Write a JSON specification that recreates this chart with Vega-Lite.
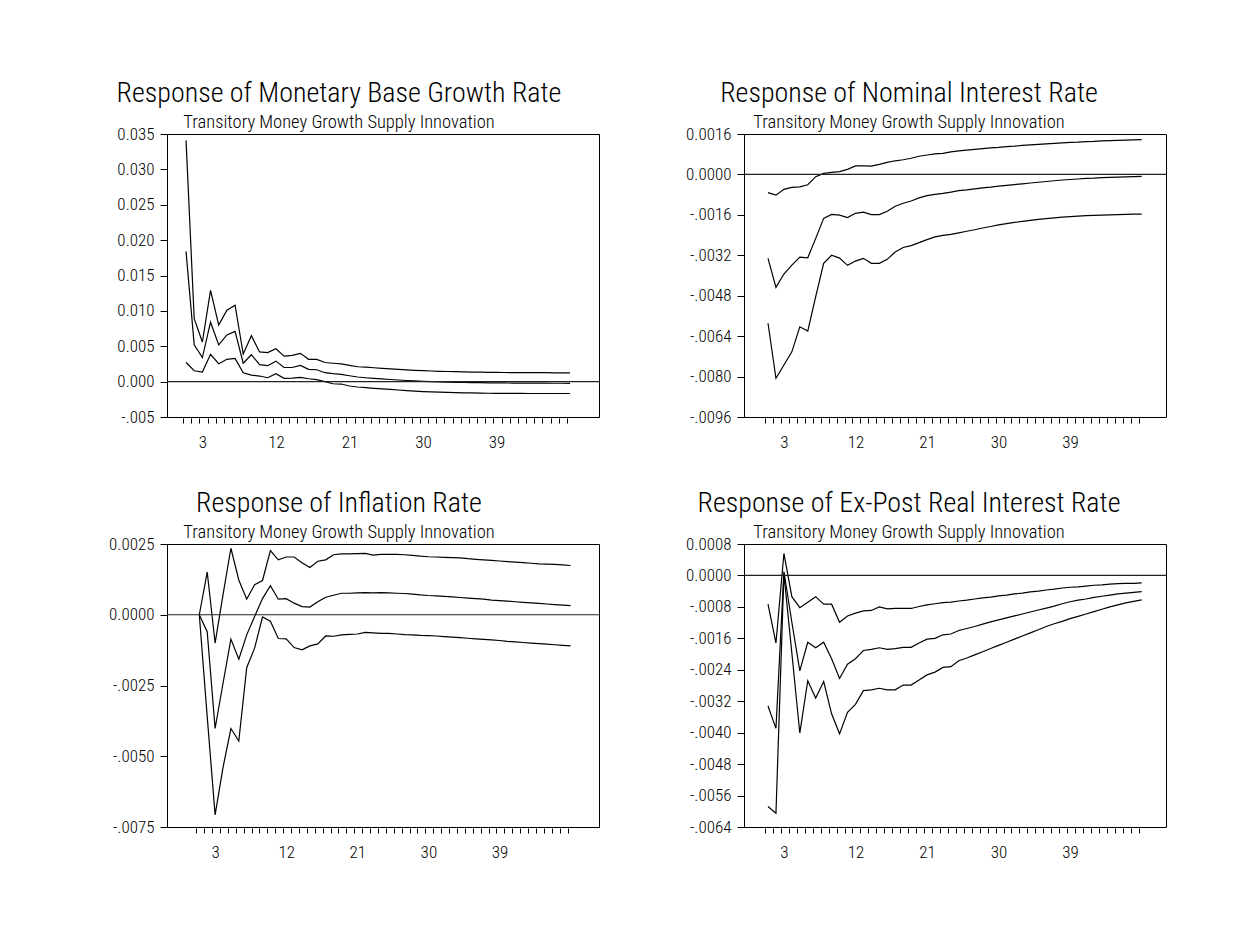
{
  "$schema": "https://vega.github.io/schema/vega-lite/v6.json",
  "padding": {"left": 108, "top": 79, "right": 83, "bottom": 69},
  "background": "white",
  "config": {
    "font": "Roboto Condensed, Liberation Sans, sans-serif",
    "view": {"stroke": "black", "strokeWidth": 1},
    "title": {"fontSize": 28, "fontWeight": 300, "color": "black", "subtitleFontSize": 18.5, "subtitleFontWeight": 300, "subtitleColor": "black", "anchor": "middle", "frame": "group", "offset": -6, "subtitlePadding": 5},
    "axis": {"title": null, "grid": false, "domain": false, "tickColor": "black", "labelColor": "black", "labelOverlap": false, "labelFlush": false, "labelBound": false, "tickCount": 100, "labelFontWeight": 300},
    "axisX": {"tickSize": 5, "offset": 1, "tickOffset": -3, "labelOffset": 3, "labelPadding": 11, "labelFontSize": 17},
    "axisY": {"tickSize": 7, "labelPadding": 6, "labelFontSize": 17}
  },
  "datasets": {
    "tl": [
      {"p":1,"hi":0.0341,"mid":0.0184,"lo":0.0027},{"p":2,"hi":0.0089,"mid":0.0052,"lo":0.00154},{"p":3,"hi":0.0056,"mid":0.0034,"lo":0.00136},{"p":4,"hi":0.0129,"mid":0.0084,"lo":0.00386},
      {"p":5,"hi":0.008,"mid":0.0052,"lo":0.00253},{"p":6,"hi":0.0101,"mid":0.0066,"lo":0.00315},{"p":7,"hi":0.0108,"mid":0.0071,"lo":0.00329},{"p":8,"hi":0.0039,"mid":0.0026,"lo":0.00126},
      {"p":9,"hi":0.0065,"mid":0.0038,"lo":0.00093},{"p":10,"hi":0.0042,"mid":0.0024,"lo":0.00079},{"p":11,"hi":0.0041,"mid":0.00225,"lo":0.00055},{"p":12,"hi":0.00465,"mid":0.0029,"lo":0.00112},
      {"p":13,"hi":0.0036,"mid":0.002,"lo":0.00047},{"p":14,"hi":0.0037,"mid":0.002,"lo":0.0005},{"p":15,"hi":0.004,"mid":0.0023,"lo":0.0006},{"p":16,"hi":0.00315,"mid":0.00174,"lo":0.00041},
      {"p":17,"hi":0.00315,"mid":0.00168,"lo":0.00027},{"p":18,"hi":0.0027,"mid":0.00126,"lo":-0.00001},{"p":19,"hi":0.0026,"mid":0.00112,"lo":-0.0003},{"p":20,"hi":0.0025,"mid":0.00103,"lo":-0.00034},
      {"p":21,"hi":0.0023,"mid":0.00083,"lo":-0.00062},{"p":22,"hi":0.0021,"mid":0.00065,"lo":-0.00076},{"p":23,"hi":0.00205,"mid":0.00055,"lo":-0.00086},{"p":24,"hi":0.00196,"mid":0.00046,"lo":-0.00095},
      {"p":25,"hi":0.00188,"mid":0.00038,"lo":-0.00103},{"p":26,"hi":0.0018,"mid":0.0003,"lo":-0.0011},{"p":27,"hi":0.00173,"mid":0.00023,"lo":-0.00118},{"p":28,"hi":0.00166,"mid":0.00016,"lo":-0.00126},
      {"p":29,"hi":0.0016,"mid":0.0001,"lo":-0.00134},{"p":30,"hi":0.00155,"mid":0.00004,"lo":-0.0014},{"p":31,"hi":0.0015,"mid":-0.00001,"lo":-0.00144},{"p":32,"hi":0.00146,"mid":-0.00005,"lo":-0.00148},
      {"p":33,"hi":0.00143,"mid":-0.00008,"lo":-0.00152},{"p":34,"hi":0.0014,"mid":-0.0001,"lo":-0.00155},{"p":35,"hi":0.00137,"mid":-0.00012,"lo":-0.00158},{"p":36,"hi":0.00135,"mid":-0.00014,"lo":-0.0016},
      {"p":37,"hi":0.00133,"mid":-0.00015,"lo":-0.00162},{"p":38,"hi":0.00131,"mid":-0.00017,"lo":-0.00164},{"p":39,"hi":0.0013,"mid":-0.00018,"lo":-0.00165},{"p":40,"hi":0.00129,"mid":-0.00019,"lo":-0.00166},
      {"p":41,"hi":0.00128,"mid":-0.0002,"lo":-0.00167},{"p":42,"hi":0.00127,"mid":-0.00021,"lo":-0.00167},{"p":43,"hi":0.00127,"mid":-0.00021,"lo":-0.00168},{"p":44,"hi":0.00126,"mid":-0.00022,"lo":-0.00168},
      {"p":45,"hi":0.00126,"mid":-0.00022,"lo":-0.00168},{"p":46,"hi":0.00125,"mid":-0.00023,"lo":-0.00168},{"p":47,"hi":0.00125,"mid":-0.00023,"lo":-0.00168},{"p":48,"hi":0.00125,"mid":-0.00024,"lo":-0.00168}
    ],
    "tr": [
      {"p":1,"hi":-0.00072,"mid":-0.00332,"lo":-0.00589},{"p":2,"hi":-0.00082,"mid":-0.00447,"lo":-0.00807},{"p":3,"hi":-0.00059,"mid":-0.00394,"lo":-0.00754},{"p":4,"hi":-0.00051,"mid":-0.00359,"lo":-0.00702},
      {"p":5,"hi":-0.00049,"mid":-0.00327,"lo":-0.00603},{"p":6,"hi":-0.00041,"mid":-0.0033,"lo":-0.0062},{"p":7,"hi":-0.00009,"mid":-0.00253,"lo":-0.00484},{"p":8,"hi":0.00004,"mid":-0.00174,"lo":-0.00352},
      {"p":9,"hi":0.00008,"mid":-0.00158,"lo":-0.0032},{"p":10,"hi":0.00011,"mid":-0.00161,"lo":-0.00331},{"p":11,"hi":0.0002,"mid":-0.00171,"lo":-0.0036},{"p":12,"hi":0.00034,"mid":-0.00154,"lo":-0.00343},
      {"p":13,"hi":0.00034,"mid":-0.00149,"lo":-0.00332},{"p":14,"hi":0.00033,"mid":-0.00159,"lo":-0.00352},{"p":15,"hi":0.0004,"mid":-0.00159,"lo":-0.00352},{"p":16,"hi":0.00048,"mid":-0.00146,"lo":-0.00336},
      {"p":17,"hi":0.00054,"mid":-0.00126,"lo":-0.00307},{"p":18,"hi":0.00058,"mid":-0.00114,"lo":-0.00289},{"p":19,"hi":0.00064,"mid":-0.00105,"lo":-0.00282},{"p":20,"hi":0.00072,"mid":-0.00093,"lo":-0.0027},
      {"p":21,"hi":0.00077,"mid":-0.00084,"lo":-0.00258},{"p":22,"hi":0.00081,"mid":-0.00079,"lo":-0.00247},{"p":23,"hi":0.00083,"mid":-0.00075,"lo":-0.00241},{"p":24,"hi":0.00089,"mid":-0.0007,"lo":-0.00237},
      {"p":25,"hi":0.00093,"mid":-0.00064,"lo":-0.00231},{"p":26,"hi":0.00096,"mid":-0.00061,"lo":-0.00225},{"p":27,"hi":0.00099,"mid":-0.00057,"lo":-0.00219},{"p":28,"hi":0.00102,"mid":-0.00053,"lo":-0.00212},
      {"p":29,"hi":0.00105,"mid":-0.0005,"lo":-0.00206},{"p":30,"hi":0.00107,"mid":-0.00046,"lo":-0.002},{"p":31,"hi":0.0011,"mid":-0.00043,"lo":-0.00195},{"p":32,"hi":0.00112,"mid":-0.0004,"lo":-0.0019},
      {"p":33,"hi":0.00115,"mid":-0.00037,"lo":-0.00186},{"p":34,"hi":0.00117,"mid":-0.00034,"lo":-0.00182},{"p":35,"hi":0.00119,"mid":-0.00031,"lo":-0.00178},{"p":36,"hi":0.00121,"mid":-0.00028,"lo":-0.00175},
      {"p":37,"hi":0.00123,"mid":-0.00025,"lo":-0.00172},{"p":38,"hi":0.00125,"mid":-0.00022,"lo":-0.00169},{"p":39,"hi":0.00127,"mid":-0.0002,"lo":-0.00167},{"p":40,"hi":0.00128,"mid":-0.00018,"lo":-0.00165},
      {"p":41,"hi":0.0013,"mid":-0.00016,"lo":-0.00163},{"p":42,"hi":0.00131,"mid":-0.00015,"lo":-0.00162},{"p":43,"hi":0.00133,"mid":-0.00013,"lo":-0.00161},{"p":44,"hi":0.00134,"mid":-0.00012,"lo":-0.0016},
      {"p":45,"hi":0.00135,"mid":-0.00011,"lo":-0.00159},{"p":46,"hi":0.00136,"mid":-0.0001,"lo":-0.00158},{"p":47,"hi":0.00137,"mid":-0.00009,"lo":-0.00157},{"p":48,"hi":0.00138,"mid":-0.00008,"lo":-0.00157}
    ],
    "bl": [
      {"p":1,"hi":0,"mid":0,"lo":0},{"p":2,"hi":0.00151,"mid":-0.0006,"lo":-0.0036},{"p":3,"hi":-0.001,"mid":-0.00402,"lo":-0.00707},{"p":4,"hi":0.0007,"mid":-0.00243,"lo":-0.0054},
      {"p":5,"hi":0.00235,"mid":-0.00086,"lo":-0.00402},{"p":6,"hi":0.00123,"mid":-0.00157,"lo":-0.00446},{"p":7,"hi":0.00055,"mid":-0.00071,"lo":-0.00187},{"p":8,"hi":0.00106,"mid":-0.00006,"lo":-0.00118},
      {"p":9,"hi":0.00121,"mid":0.00057,"lo":-0.00008},{"p":10,"hi":0.00227,"mid":0.00103,"lo":-0.00023},{"p":11,"hi":0.00194,"mid":0.00055,"lo":-0.00084},{"p":12,"hi":0.00204,"mid":0.00057,"lo":-0.00085},
      {"p":13,"hi":0.00204,"mid":0.00041,"lo":-0.00116},{"p":14,"hi":0.00184,"mid":0.00029,"lo":-0.00124},{"p":15,"hi":0.00167,"mid":0.00027,"lo":-0.0011},{"p":16,"hi":0.00189,"mid":0.00046,"lo":-0.00103},
      {"p":17,"hi":0.00194,"mid":0.00062,"lo":-0.00075},{"p":18,"hi":0.00212,"mid":0.00069,"lo":-0.00076},{"p":19,"hi":0.00215,"mid":0.00076,"lo":-0.00071},{"p":20,"hi":0.00215,"mid":0.00076,"lo":-0.00069},
      {"p":21,"hi":0.00216,"mid":0.00077,"lo":-0.00068},{"p":22,"hi":0.00217,"mid":0.00078,"lo":-0.00062},{"p":23,"hi":0.00211,"mid":0.00077,"lo":-0.00064},{"p":24,"hi":0.00213,"mid":0.00078,"lo":-0.00066},
      {"p":25,"hi":0.00213,"mid":0.00077,"lo":-0.00066},{"p":26,"hi":0.00213,"mid":0.00076,"lo":-0.00068},{"p":27,"hi":0.00212,"mid":0.00075,"lo":-0.0007},{"p":28,"hi":0.0021,"mid":0.00073,"lo":-0.00071},
      {"p":29,"hi":0.00207,"mid":0.0007,"lo":-0.00073},{"p":30,"hi":0.00205,"mid":0.00068,"lo":-0.00074},{"p":31,"hi":0.00204,"mid":0.00067,"lo":-0.00075},{"p":32,"hi":0.00203,"mid":0.00065,"lo":-0.00077},
      {"p":33,"hi":0.00202,"mid":0.00063,"lo":-0.00079},{"p":34,"hi":0.00201,"mid":0.00061,"lo":-0.00081},{"p":35,"hi":0.00198,"mid":0.00059,"lo":-0.00083},{"p":36,"hi":0.00196,"mid":0.00057,"lo":-0.00085},
      {"p":37,"hi":0.00194,"mid":0.00055,"lo":-0.00087},{"p":38,"hi":0.00192,"mid":0.00052,"lo":-0.00089},{"p":39,"hi":0.0019,"mid":0.0005,"lo":-0.00091},{"p":40,"hi":0.00188,"mid":0.00048,"lo":-0.00094},
      {"p":41,"hi":0.00186,"mid":0.00046,"lo":-0.00096},{"p":42,"hi":0.00184,"mid":0.00044,"lo":-0.00098},{"p":43,"hi":0.00182,"mid":0.00042,"lo":-0.001},{"p":44,"hi":0.0018,"mid":0.0004,"lo":-0.00102},
      {"p":45,"hi":0.00179,"mid":0.00038,"lo":-0.00104},{"p":46,"hi":0.00178,"mid":0.00036,"lo":-0.00106},{"p":47,"hi":0.00176,"mid":0.00034,"lo":-0.00108},{"p":48,"hi":0.00174,"mid":0.00032,"lo":-0.0011}
    ],
    "br": [
      {"p":1,"hi":-0.00073,"mid":-0.00332,"lo":-0.00588},{"p":2,"hi":-0.00172,"mid":-0.00389,"lo":-0.00605},{"p":3,"hi":0.00056,"mid":0.0001,"lo":0.00004},{"p":4,"hi":-0.00054,"mid":-0.00119,"lo":-0.00198},
      {"p":5,"hi":-0.00082,"mid":-0.00243,"lo":-0.00401},{"p":6,"hi":-0.00068,"mid":-0.0017,"lo":-0.00268},{"p":7,"hi":-0.00054,"mid":-0.00184,"lo":-0.00312},{"p":8,"hi":-0.00073,"mid":-0.0017,"lo":-0.0027},
      {"p":9,"hi":-0.00073,"mid":-0.00212,"lo":-0.00352},{"p":10,"hi":-0.00119,"mid":-0.00262,"lo":-0.00403},{"p":11,"hi":-0.00103,"mid":-0.00226,"lo":-0.00348},{"p":12,"hi":-0.00096,"mid":-0.00212,"lo":-0.00328},
      {"p":13,"hi":-0.0009,"mid":-0.00191,"lo":-0.00293},{"p":14,"hi":-0.00089,"mid":-0.00188,"lo":-0.00291},{"p":15,"hi":-0.0008,"mid":-0.00184,"lo":-0.00287},{"p":16,"hi":-0.00085,"mid":-0.00188,"lo":-0.00291},
      {"p":17,"hi":-0.00084,"mid":-0.00186,"lo":-0.00291},{"p":18,"hi":-0.00084,"mid":-0.00183,"lo":-0.00279},{"p":19,"hi":-0.00084,"mid":-0.00183,"lo":-0.00279},{"p":20,"hi":-0.00079,"mid":-0.00172,"lo":-0.00266},
      {"p":21,"hi":-0.00075,"mid":-0.00162,"lo":-0.00253},{"p":22,"hi":-0.00072,"mid":-0.0016,"lo":-0.00246},{"p":23,"hi":-0.00069,"mid":-0.00151,"lo":-0.00234},{"p":24,"hi":-0.00068,"mid":-0.00149,"lo":-0.00232},
      {"p":25,"hi":-0.00065,"mid":-0.0014,"lo":-0.00217},{"p":26,"hi":-0.00063,"mid":-0.00135,"lo":-0.0021},{"p":27,"hi":-0.0006,"mid":-0.0013,"lo":-0.00202},{"p":28,"hi":-0.00057,"mid":-0.00124,"lo":-0.00194},
      {"p":29,"hi":-0.00055,"mid":-0.00118,"lo":-0.00186},{"p":30,"hi":-0.00052,"mid":-0.00113,"lo":-0.00178},{"p":31,"hi":-0.0005,"mid":-0.00108,"lo":-0.0017},{"p":32,"hi":-0.00047,"mid":-0.00103,"lo":-0.00162},
      {"p":33,"hi":-0.00045,"mid":-0.00098,"lo":-0.00154},{"p":34,"hi":-0.00042,"mid":-0.00093,"lo":-0.00146},{"p":35,"hi":-0.0004,"mid":-0.00088,"lo":-0.00138},{"p":36,"hi":-0.00037,"mid":-0.00083,"lo":-0.0013},
      {"p":37,"hi":-0.00035,"mid":-0.00078,"lo":-0.00123},{"p":38,"hi":-0.00032,"mid":-0.00072,"lo":-0.00117},{"p":39,"hi":-0.0003,"mid":-0.00067,"lo":-0.0011},{"p":40,"hi":-0.00029,"mid":-0.00063,"lo":-0.00104},
      {"p":41,"hi":-0.00027,"mid":-0.0006,"lo":-0.00098},{"p":42,"hi":-0.00025,"mid":-0.00056,"lo":-0.00092},{"p":43,"hi":-0.00024,"mid":-0.00053,"lo":-0.00086},{"p":44,"hi":-0.00022,"mid":-0.0005,"lo":-0.0008},
      {"p":45,"hi":-0.00021,"mid":-0.00047,"lo":-0.00075},{"p":46,"hi":-0.0002,"mid":-0.00045,"lo":-0.0007},{"p":47,"hi":-0.0002,"mid":-0.00043,"lo":-0.00066},{"p":48,"hi":-0.00019,"mid":-0.00041,"lo":-0.00062}
    ]
  },
  "concat": [
    {
      "width": 432, "height": 283,
      "title": {"text": "Response of Monetary Base Growth Rate", "subtitle": "Transitory Money Growth Supply Innovation", "dx": -44},
      "layer": [
        {"data": {"name": "tl"}, "transform": [{"fold": ["hi", "mid", "lo"], "as": ["band", "v"]}],
         "mark": {"type": "line", "color": "black", "strokeWidth": 1.2},
         "encoding": {
           "x": {"field": "p", "type": "quantitative", "scale": {"domain": [-1.33, 51.55], "nice": false},
                 "axis": {"values": [1,2,3,4,5,6,7,8,9,10,11,12,13,14,15,16,17,18,19,20,21,22,23,24,25,26,27,28,29,30,31,32,33,34,35,36,37,38,39,40,41,42,43,44,45,46,47,48], "tickCount": 100, "labelOverlap": false,
                          "labelExpr": "indexof([3,12,21,30,39], datum.value) >= 0 ? '' + datum.value : ''"}},
           "y": {"field": "v", "type": "quantitative", "scale": {"domain": [-0.005, 0.035], "nice": false, "zero": false},
                 "axis": {"values": [-0.005, 0, 0.005, 0.01, 0.015, 0.02, 0.025, 0.03, 0.035], "tickCount": 100, "labelOverlap": false,
                          "labelExpr": "datum.value < 0 ? '-' + slice(format(-datum.value, '.3f'), 1) : format(datum.value, '.3f')"}},
           "detail": {"field": "band"}
         }},
        {"data": {"values": [{}]}, "mark": {"type": "rule", "color": "#222", "strokeWidth": 1.2}, "encoding": {"y": {"datum": 0}}}
      ]
    },
    {
      "width": 422, "height": 283,
      "title": {"text": "Response of Nominal Interest Rate", "subtitle": "Transitory Money Growth Supply Innovation", "dx": -46},
      "layer": [
        {"data": {"name": "tr"}, "transform": [{"fold": ["hi", "mid", "lo"], "as": ["band", "v"]}],
         "mark": {"type": "line", "color": "black", "strokeWidth": 1.2},
         "encoding": {
           "x": {"field": "p", "type": "quantitative", "scale": {"domain": [-2.02, 51.06], "nice": false},
                 "axis": {"values": [1,2,3,4,5,6,7,8,9,10,11,12,13,14,15,16,17,18,19,20,21,22,23,24,25,26,27,28,29,30,31,32,33,34,35,36,37,38,39,40,41,42,43,44,45,46,47,48], "tickCount": 100, "labelOverlap": false,
                          "labelExpr": "indexof([3,12,21,30,39], datum.value) >= 0 ? '' + datum.value : ''"}},
           "y": {"field": "v", "type": "quantitative", "scale": {"domain": [-0.0096, 0.0016], "nice": false, "zero": false},
                 "axis": {"values": [-0.0096, -0.008, -0.0064, -0.0048, -0.0032, -0.0016, 0, 0.0016], "tickCount": 100, "labelOverlap": false,
                          "labelExpr": "datum.value < 0 ? '-' + slice(format(-datum.value, '.4f'), 1) : format(datum.value, '.4f')"}},
           "detail": {"field": "band"}
         }},
        {"data": {"values": [{}]}, "mark": {"type": "rule", "color": "#222", "strokeWidth": 1.2}, "encoding": {"y": {"datum": 0}}}
      ]
    },
    {
      "width": 432, "height": 283,
      "title": {"text": "Response of Inflation Rate", "subtitle": "Transitory Money Growth Supply Innovation", "dx": -44},
      "layer": [
        {"data": {"name": "bl"}, "transform": [{"fold": ["hi", "mid", "lo"], "as": ["band", "v"]}],
         "mark": {"type": "line", "color": "black", "strokeWidth": 1.2},
         "encoding": {
           "x": {"field": "p", "type": "quantitative", "scale": {"domain": [-3.09, 51.6], "nice": false},
                 "axis": {"values": [1,2,3,4,5,6,7,8,9,10,11,12,13,14,15,16,17,18,19,20,21,22,23,24,25,26,27,28,29,30,31,32,33,34,35,36,37,38,39,40,41,42,43,44,45,46,47,48], "tickCount": 100, "labelOverlap": false,
                          "labelExpr": "indexof([3,12,21,30,39], datum.value) >= 0 ? '' + datum.value : ''"}},
           "y": {"field": "v", "type": "quantitative", "scale": {"domain": [-0.0075, 0.0025], "nice": false, "zero": false},
                 "axis": {"values": [-0.0075, -0.005, -0.0025, 0, 0.0025], "tickCount": 100, "labelOverlap": false,
                          "labelExpr": "datum.value < 0 ? '-' + slice(format(-datum.value, '.4f'), 1) : format(datum.value, '.4f')"}},
           "detail": {"field": "band"}
         }},
        {"data": {"values": [{}]}, "mark": {"type": "rule", "color": "#222", "strokeWidth": 1.2}, "encoding": {"y": {"datum": 0}}}
      ]
    },
    {
      "width": 422, "height": 283,
      "title": {"text": "Response of Ex-Post Real Interest Rate", "subtitle": "Transitory Money Growth Supply Innovation", "dx": -46},
      "layer": [
        {"data": {"name": "br"}, "transform": [{"fold": ["hi", "mid", "lo"], "as": ["band", "v"]}],
         "mark": {"type": "line", "color": "black", "strokeWidth": 1.2},
         "encoding": {
           "x": {"field": "p", "type": "quantitative", "scale": {"domain": [-2.02, 51.06], "nice": false},
                 "axis": {"values": [1,2,3,4,5,6,7,8,9,10,11,12,13,14,15,16,17,18,19,20,21,22,23,24,25,26,27,28,29,30,31,32,33,34,35,36,37,38,39,40,41,42,43,44,45,46,47,48], "tickCount": 100, "labelOverlap": false,
                          "labelExpr": "indexof([3,12,21,30,39], datum.value) >= 0 ? '' + datum.value : ''"}},
           "y": {"field": "v", "type": "quantitative", "scale": {"domain": [-0.0064, 0.0008], "nice": false, "zero": false},
                 "axis": {"values": [-0.0064, -0.0056, -0.0048, -0.004, -0.0032, -0.0024, -0.0016, -0.0008, 0, 0.0008], "tickCount": 100, "labelOverlap": false,
                          "labelExpr": "datum.value < 0 ? '-' + slice(format(-datum.value, '.4f'), 1) : format(datum.value, '.4f')"}},
           "detail": {"field": "band"}
         }},
        {"data": {"values": [{}]}, "mark": {"type": "rule", "color": "#222", "strokeWidth": 1.2}, "encoding": {"y": {"datum": 0}}}
      ]
    }
  ],
  "columns": 2,
  "align": "each",
  "spacing": {"row": 38, "column": 84}
}
